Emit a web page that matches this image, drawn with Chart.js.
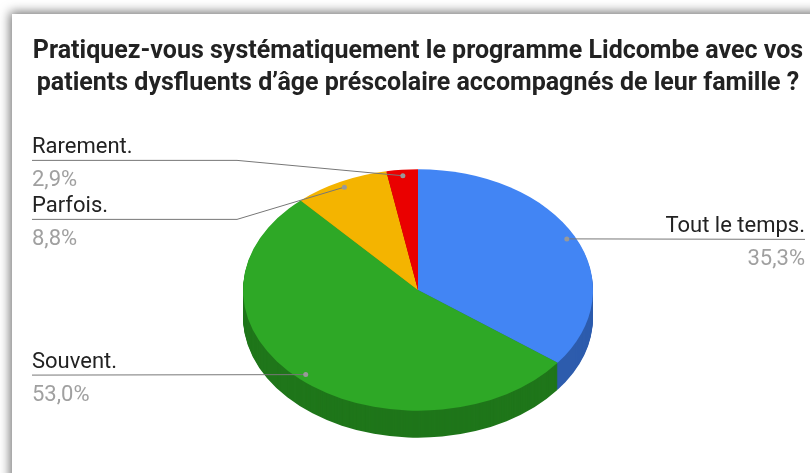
<!DOCTYPE html>
<html>
<head>
<meta charset="utf-8">
<script src="https://cdn.jsdelivr.net/npm/chart.js@4/dist/chart.umd.min.js"></script>
<style>
    html, body { margin: 0; padding: 0; background: #fff; overflow: hidden; }
    #card {
        position: absolute; left: 12px; top: 14px; width: 830px; height: 480px;
        background: #fff; box-shadow: 0 0 10px 2px rgba(0, 0, 0, 0.55);
    }
    #wrap { position: absolute; left: 0; top: 0; width: 810px; height: 473px; }
</style>
</head>
<body>
<div id="card"></div>
<div id="wrap"><canvas id="pieChart"></canvas></div>
<script>
// Survey answers, share of respondents in %
const labels = ['Tout le temps.', 'Souvent.', 'Parfois.', 'Rarement.'];
const shares = [35.3, 53.0, 8.8, 2.9];
const topColors = ['#4285f4', '#2ea826', '#f4b400', '#ea0000'];
const sideColors = ['#2d5cad', '#1f761a', '#b98800', '#a80000'];
const titleLines = [
    'Pratiquez-vous systématiquement le programme Lidcombe avec vos',
    'patients dysfluents d\u2019âge préscolaire accompagnés de leur famille ?'
];

const tilt = 0.69;      // vertical squash of the pie
const depth = 27;       // thickness of the 3D side in px

function pct(v) {
    return v.toFixed(1).replace('.', ',') + '%';
}

// squash the pie into an ellipse and draw the side band under it
const tiltPlugin = {
    id: 'tilt3d',
    beforeDatasetsDraw(chart) {
        const ctx = chart.ctx;
        const arcs = chart.getDatasetMeta(0).data;
        const cx = arcs[0].x, cy = arcs[0].y;
        ctx.save();
        ctx.translate(cx, cy);
        ctx.scale(1, tilt);
        ctx.translate(-cx, -cy);
        for (let d = depth; d >= 1; d--) {
            const off = d / tilt;
            arcs.forEach((arc, i) => {
                ctx.beginPath();
                ctx.moveTo(arc.x, arc.y + off);
                ctx.arc(arc.x, arc.y + off, arc.outerRadius, arc.startAngle, arc.endAngle);
                ctx.closePath();
                ctx.fillStyle = sideColors[i];
                ctx.fill();
            });
        }
    },
    afterDatasetsDraw(chart) {
        chart.ctx.restore();
    }
};

// Google-style outside labels with leader lines
const labelPlugin = {
    id: 'outLabels',
    afterDraw(chart) {
        const ctx = chart.ctx;
        const arcs = chart.getDatasetMeta(0).data;
        const gap = 59;
        const items = arcs.map((arc, i) => {
            const a = (arc.startAngle + arc.endAngle) / 2;
            const r = arc.outerRadius * 0.95;
            const ax = arc.x + Math.cos(a) * r;
            const ay = arc.y + Math.sin(a) * r * tilt;
            return { i, ax, ay, left: ax < arc.x, y: ay };
        });
        // spread overlapping labels, cluster by cluster
        [true, false].forEach(side => {
            const group = items.filter(it => it.left === side).sort((a, b) => a.ay - b.ay);
            let cluster = [];
            let push = 0;
            const flush = () => {
                if (push > 0) cluster.forEach(it => { it.y -= push / 3; });
                cluster = [];
                push = 0;
            };
            group.forEach((it, j) => {
                if (j > 0 && it.y < group[j - 1].y + gap) {
                    push += group[j - 1].y + gap - it.y;
                    it.y = group[j - 1].y + gap;
                } else {
                    flush();
                }
                cluster.push(it);
            });
            flush();
        });

        const cx = arcs[0].x, R = arcs[0].outerRadius;
        items.forEach(it => {
            const textX = it.left ? 32 : 805;
            const elbowX = it.left ? cx - R - 6 : cx + R + 6;
            ctx.save();
            ctx.strokeStyle = '#777';
            ctx.lineWidth = 1;
            ctx.beginPath();
            ctx.moveTo(textX, it.y + 0.5);
            if (Math.abs(it.y - it.ay) > 1 && (it.left ? elbowX < it.ax : elbowX > it.ax)) {
                ctx.lineTo(elbowX, it.y + 0.5);
            }
            ctx.lineTo(it.ax, it.ay);
            ctx.stroke();
            ctx.fillStyle = '#999';
            ctx.beginPath();
            ctx.arc(it.ax, it.ay, 2.5, 0, Math.PI * 2);
            ctx.fill();

            ctx.textAlign = it.left ? 'left' : 'right';
            ctx.textBaseline = 'alphabetic';
            ctx.font = '22px Roboto';
            ctx.fillStyle = '#222';
            ctx.fillText(labels[it.i], textX, it.y - 7);
            ctx.fillStyle = '#a0a0a0';
            ctx.fillText(pct(shares[it.i]), textX, it.y + 26);
            ctx.restore();
        });
    }
};

new Chart(document.getElementById('pieChart'), {
    type: 'pie',
    data: {
        labels: labels,
        datasets: [{
            data: shares,
            backgroundColor: topColors,
            borderWidth: 0,
            clip: false
        }]
    },
    options: {
        responsive: true,
        maintainAspectRatio: false,
        animation: false,
        radius: 175,
        layout: { padding: { left: 28, right: 2, top: 0, bottom: 5 } },
        plugins: {
            legend: { display: false },
            tooltip: { enabled: false },
            title: {
                display: true,
                text: titleLines,
                color: '#222',
                font: { family: 'Roboto', size: 25, weight: 'bold', lineHeight: 1.28 },
                padding: { top: 36, bottom: 12 }
            }
        }
    },
    plugins: [tiltPlugin, labelPlugin]
});
</script>
</body>
</html>
